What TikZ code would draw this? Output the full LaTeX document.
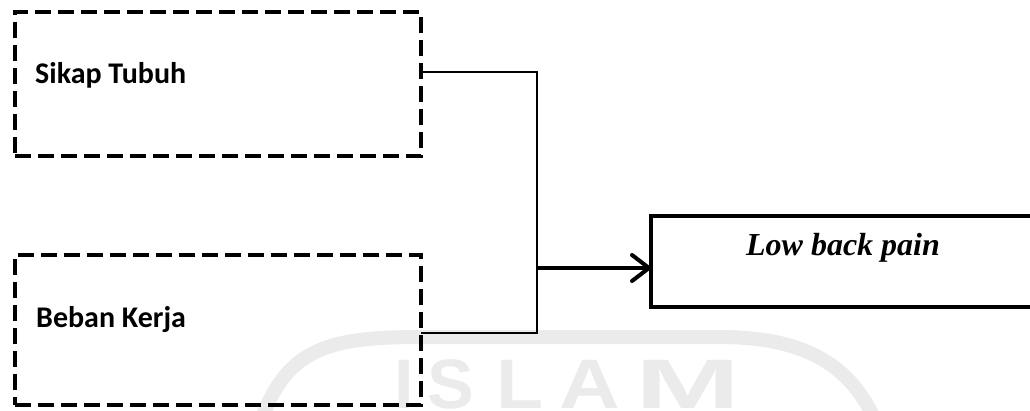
\documentclass[tikz,border=0pt]{standalone}
\usepackage{fontspec}
\setmainfont{Liberation Serif}
\newfontfamily\calibri{Carlito}
\newfontfamily\wmfont{Liberation Sans}
\usetikzlibrary{arrows.meta}
\definecolor{wm}{HTML}{EBEBEB}
\begin{document}
\begin{tikzpicture}[x=1pt,y=-1pt,
  dbox/.style={draw, line width=4pt, dash pattern=on 16pt off 7pt, minimum width=406pt, inner sep=0pt, outer sep=0pt},
  sbox/.style={draw, line width=4pt, inner sep=0pt, outer sep=0pt},
  lbl/.style={font=\calibri\bfseries\fontsize{30}{35}\selectfont, anchor=west, inner sep=0pt},
  conn/.style={line width=2pt},
  arr/.style={line width=4pt, -{Straight Barb[length=17pt,width=26pt,line width=4pt,round]}},
  wml/.style={font=\wmfont\bfseries\fontsize{70}{70}\selectfont, text=wm, anchor=base, inner sep=0pt}
]
\useasboundingbox (0,0) rectangle (1030,410);
\clip (0,0) rectangle (1030,410);
\fill[white] (0,0) rectangle (1030,410);
% watermark
\draw[wm, line width=14pt] (262,418) .. controls (288,348) and (330,337) .. (420,337) -- (720,337) .. controls (800,337) and (848,362) .. (874,418);
\node[wml] (wmI) at (404,408) {I};
\node[wml] (wmS) at (451,408) {S};
\node[wml, xscale=1.1] (wmL) at (520,408) {L};
\node[wml, xscale=1.2] (wmA) at (590,408) {A};
\node[wml, xscale=1.8] (wmM) at (688,408) {M};
% boxes
\node[dbox, minimum height=144pt] (top) at (218,84) {};
\node[dbox, minimum height=150pt] (bot) at (218,330) {};
\node[sbox, minimum width=400pt, minimum height=91pt, anchor=north west] (lbp) at (651,216) {};
% labels
\node[lbl] (tl) at (35,75) {Sikap Tubuh};
\node[lbl] (bl) at (36,320) {Beban Kerja};
\node[font=\bfseries\itshape\fontsize{32}{38}\selectfont, inner sep=0pt] (lt) at (843,248) {Low back pain};
% connectors
\coordinate (j) at (537,268);
\draw[conn] ([yshift=12pt]top.east) -| (j) |- ([yshift=-3pt]bot.east);
\draw[arr] (j) -- (lbp.west |- j);
\end{tikzpicture}
\end{document}
